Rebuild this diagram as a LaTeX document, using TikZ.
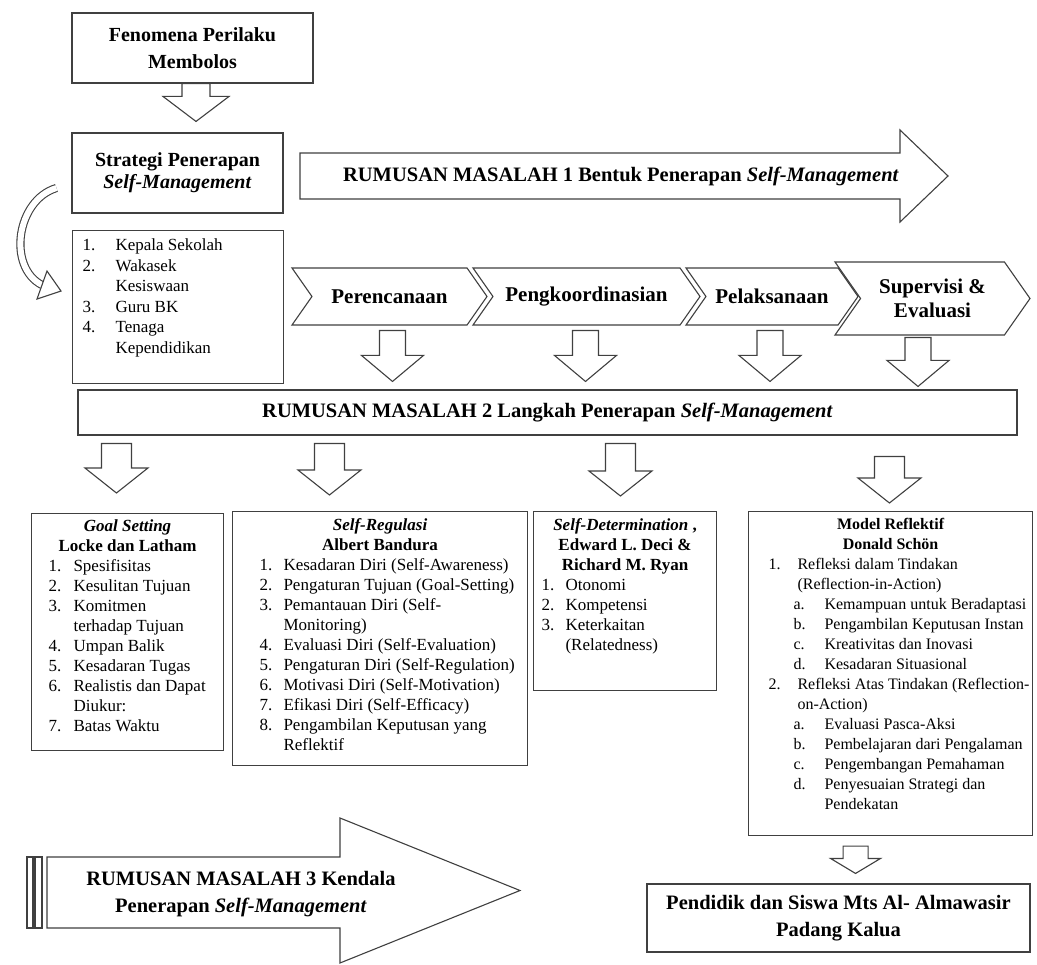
\documentclass[tikz,border=0pt]{standalone}
\usepackage{fontspec}
\setmainfont{Liberation Serif}
\usetikzlibrary{positioning, calc, shapes.symbols}

\newcommand{\bd}{\fontsize{17}{20}\selectfont}
\newcommand{\sm}{\textit{Self-Management}}
% hollow block arrow pointing down: shaft half, head half, head length, from, to
\newcommand{\blockdown}[5]{%
  \draw[blk] let \p1=#4, \p2=#5 in
    (\x1-#1pt,\y1) -- (\x1-#1pt,\y2+#3pt) -- (\x1-#2pt,\y2+#3pt) -- (\x1,\y2)
    -- (\x1+#2pt,\y2+#3pt) -- (\x1+#1pt,\y2+#3pt) -- (\x1+#1pt,\y1) -- cycle;}
% top-aligned content of a framed panel: width, height, text
\newcommand{\panel}[3]{\parbox[c][#2pt][t]{#1pt}{\bd\raggedright #3}}

\tikzset{
  box/.style={draw=black!75, line width=1.1pt, fill=white, inner sep=0pt},
  panel/.style={box, anchor=north west, inner xsep=6pt, inner ysep=7pt},
  blk/.style={draw=black!75, line width=1.1pt, fill=white, line join=miter},
  chev/.style={signal, signal from=west, signal to=east, signal pointer angle=110,
    draw=black!75, line width=1.1pt, fill=white, inner sep=0pt, align=center,
    font=\fontsize{21}{24}\selectfont\bfseries},
  rmtext/.style={font=\fontsize{20.5}{27}\selectfont\bfseries, inner sep=0pt, align=center}
}

\begin{document}
\begin{tikzpicture}[x=1pt, y=-1pt]
\path[fill=white] (0,0) rectangle (1037,965);
\useasboundingbox (0,0) rectangle (1037,965);

% phenomenon and strategy
\node[box, align=center, minimum width=241, minimum height=70,
  font=\fontsize{20}{27}\selectfont\bfseries] (fen) at (192.5,48) {Fenomena Perilaku\\Membolos};
\node[box, align=center, minimum width=211, minimum height=80,
  font=\fontsize{20}{22}\selectfont\bfseries] (strat) at (177.5,173) {Strategi Penerapan\\\sm};
\blockdown{14}{33}{25}{($(fen.south)+(3.5,0)$)}{($(strat.north)+(0,-11)$)}

% actors
\node[panel, inner ysep=6pt] (lst) at (72,230) {\panel{199}{141}{\fontsize{17}{20.5}\selectfont
  \begin{tabular}[t]{@{\hspace{4pt}}p{33pt}@{}l@{}}
  1. & Kepala Sekolah\\
  2. & Wakasek\\
     & Kesiswaan\\
  3. & Guru BK\\
  4. & Tenaga\\
     & Kependidikan
  \end{tabular}}};

% curved link strategy -> actors
\coordinate (cs) at ($(strat.west)+(-15,15)$);
\coordinate (ce) at ($(lst.west)+(-30,-22)$);
\draw[draw=black!75, line width=1.1pt, double=white, double distance=6pt]
  (cs) .. controls +(-40,12) and +(-35,-18) .. (ce);
\draw[blk] ($(ce)+(5,-14)$) -- ($(ce)+(19,6)$) -- ($(ce)+(-5,14)$) -- cycle;

% problem 1
\draw[blk] (300,153) -- (900,153) -- (900,130) -- (948,176) -- (900,222)
  -- (900,199) -- (300,199) -- cycle;
\node[rmtext] (rm1) at (621,176) {RUMUSAN MASALAH 1 Bentuk Penerapan \sm};

% steps
\node[chev, minimum width=195, minimum height=57] (per) at (389.5,296.5) {Perencanaan};
\node[chev, minimum width=227, minimum height=57] (peng) at (586.5,296.5) {Pengkoordinasian};
\node[chev, minimum width=172, minimum height=57] (pel) at (772,296.5) {Pelaksanaan};
\node[chev, minimum width=195, minimum height=73] (sup) at (932.5,298.5) {Supervisi \&\\Evaluasi};

% problem 2
\node[box, minimum width=939, minimum height=45, font=\fontsize{20.5}{24}\selectfont\bfseries]
  (rm2) at (547.5,412.5) {RUMUSAN MASALAH 2 Langkah Penerapan \sm};

\blockdown{13}{31}{26}{($(per.south)+(3,5)$)}{($(per.south |- rm2.north)+(0,-8)$)}
\blockdown{13}{31}{26}{($(peng.south)+(-1,5)$)}{($(peng.south |- rm2.north)+(0,-8)$)}
\blockdown{13}{31}{26}{($(pel.south)+(-2,5)$)}{($(pel.south |- rm2.north)+(0,-8)$)}
\blockdown{13}{31}{26}{($(sup.south)+(-14.5,2)$)}{($(sup.south |- rm2.north)+(0,-3)$)}

% theories
\node[panel, inner xsep=8pt, inner ysep=6pt] (goal) at (31,513) {\panel{176}{225}{%
  {\centering\bfseries\textit{Goal Setting}\\Locke dan Latham\par}
  \begin{tabular}[t]{@{\hspace{9pt}}p{25pt}@{}l@{}}
  1. & Spesifisitas\\
  2. & Kesulitan Tujuan\\
  3. & Komitmen\\
     & terhadap Tujuan\\
  4. & Umpan Balik\\
  5. & Kesadaran Tugas\\
  6. & Realistis dan Dapat\\
     & Diukur:\\
  7. & Batas Waktu
  \end{tabular}}};

\node[panel] (selfreg) at (232,511) {\panel{283}{240}{%
  {\centering\bfseries\textit{Self-Regulasi}\\Albert Bandura\par}
  \begin{tabular}[t]{@{\hspace{21pt}}p{24pt}@{}l@{}}
  1. & Kesadaran Diri (Self-Awareness)\\
  2. & Pengaturan Tujuan (Goal-Setting)\\
  3. & Pemantauan Diri (Self-\\
     & Monitoring)\\
  4. & Evaluasi Diri (Self-Evaluation)\\
  5. & Pengaturan Diri (Self-Regulation)\\
  6. & Motivasi Diri (Self-Motivation)\\
  7. & Efikasi Diri (Self-Efficacy)\\
  8. & Pengambilan Keputusan yang\\
     & Reflektif
  \end{tabular}}};

\node[panel] (selfdet) at (533,511) {\panel{171}{165}{%
  {\centering\bfseries\textit{Self-Determination} ,\\Edward L. Deci \&\\Richard M. Ryan\par}
  \begin{tabular}[t]{@{\hspace{2pt}}p{24pt}@{}l@{}}
  1. & Otonomi\\
  2. & Kompetensi\\
  3. & Keterkaitan\\
     & (Relatedness)
  \end{tabular}}};

\node[panel] (refl) at (748,511) {\panel{272}{310}{\fontsize{16}{20}\selectfont
  {\centering\bfseries Model Reflektif\\Donald Schön\par}
  \begin{tabular}[t]{@{\hspace{14pt}}p{29pt}@{}l@{}}
  1. & Refleksi dalam Tindakan\\
     & (Reflection-in-Action)\\
     & \hspace*{-4pt}\makebox[31pt][l]{a.}Kemampuan untuk Beradaptasi\\
     & \hspace*{-4pt}\makebox[31pt][l]{b.}Pengambilan Keputusan Instan\\
     & \hspace*{-4pt}\makebox[31pt][l]{c.}Kreativitas dan Inovasi\\
     & \hspace*{-4pt}\makebox[31pt][l]{d.}Kesadaran Situasional\\
  2. & Refleksi Atas Tindakan (Reflection-\\
     & on-Action)\\
     & \hspace*{-4pt}\makebox[31pt][l]{a.}Evaluasi Pasca-Aksi\\
     & \hspace*{-4pt}\makebox[31pt][l]{b.}Pembelajaran dari Pengalaman\\
     & \hspace*{-4pt}\makebox[31pt][l]{c.}Pengembangan Pemahaman\\
     & \hspace*{-4pt}\makebox[31pt][l]{d.}Penyesuaian Strategi dan\\
     & \hspace*{-4pt}\makebox[31pt][l]{}Pendekatan
  \end{tabular}}};

\blockdown{15}{31.5}{25}{($(rm2.south west)+(39,8)$)}{($(goal.north)+(0,-20)$)}
\blockdown{15}{31.5}{25}{($(rm2.south west)+(252,8)$)}{($(selfreg.north)+(0,-16)$)}
\blockdown{15}{31.5}{25}{($(rm2.south west)+(543,8)$)}{($(selfdet.north)+(0,-15)$)}
\blockdown{15}{31.5}{25}{($(rm2.south west)+(812,21)$)}{($(refl.north)+(0,-8)$)}

% outcome
\node[box, align=center, minimum width=383, minimum height=68,
  font=\fontsize{20.5}{27}\selectfont\bfseries] (pend) at (838.5,918)
  {Pendidik dan Siswa Mts Al- Almawasir\\Padang Kalua};
\blockdown{12.5}{25}{15}{($(refl.south)+(-35,10)$)}{($(pend.north)+(0,-10)$)}

% problem 3
\draw[blk] (27,857) rectangle (33,928);
\draw[blk] (35,857) rectangle (42,928);
\draw[blk] (47,857) -- (340,857) -- (340,818) -- (520,890.5) -- (340,963)
  -- (340,928) -- (47,928) -- cycle;
\node[rmtext] (rm3) at (241,894) {RUMUSAN MASALAH 3 Kendala\\Penerapan \sm};
\end{tikzpicture}
\end{document}
